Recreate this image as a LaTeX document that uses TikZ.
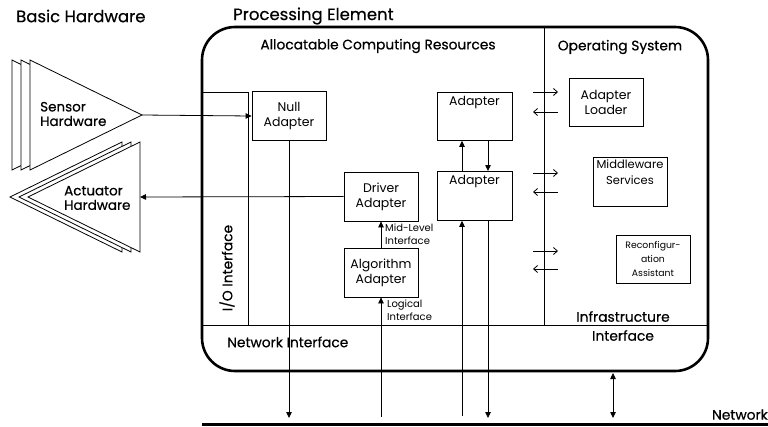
\documentclass[tikz,border=0pt]{standalone}
\usepackage{fontspec}
\setmainfont{Poppins}
\newfontfamily\headfont{Poppins}[FakeBold=0.5]
\usetikzlibrary{arrows.meta}

\begin{document}
\begin{tikzpicture}[x=1pt,y=-1pt,
  box/.style={draw, line width=0.8pt, align=center, inner sep=1pt,
    font=\fontsize{12.5}{15}\selectfont},
  boxtext/.style={align=center, inner sep=0pt, anchor=north},
  head/.style={font=\headfont\fontsize{13.8}{19}\selectfont, inner sep=0pt},
  title/.style={font=\headfont\fontsize{16.5}{19}\selectfont, inner sep=0pt, anchor=west},
  hw/.style={font=\headfont\fontsize{13.5}{14.5}\selectfont, inner sep=0pt, align=left, anchor=west},
  small/.style={font=\fontsize{10}{13}\selectfont, inner sep=0pt, align=left, anchor=west},
  thin/.style={line width=0.8pt},
  conn/.style={line width=0.8pt, -{Triangle[length=6pt,width=5.5pt]}},
  osarrow/.style={line width=0.8pt, -{Straight Barb[length=4pt,width=7pt]}},
  tri/.style={draw, line width=0.8pt, fill=white}
]
\useasboundingbox (0,0) rectangle (768,426);

% ---------- titles ----------
\node[title] (basic) at (16,16) {Basic Hardware};
\node[title] (proc) at (233,16) {Processing Element};

% ---------- processing element frame ----------
\node[draw, line width=2.6pt, rounded corners=33pt, minimum width=506pt,
      minimum height=344pt, inner sep=0pt] (pe) at (455,199) {};

% internal partitions
\coordinate (osTop) at (544,27);
\coordinate (osBot) at (544,325);
\coordinate (niL) at (202,325);
\coordinate (niR) at (708,325);
\draw[thin] (osTop) -- (osBot);
\draw[thin] (niL) -- (niR);
\coordinate (ioTL) at (202,92);
\coordinate (ioTR) at (248,92);
\coordinate (ioBR) at (248,325);
\draw[thin] (ioTL) -- (ioTR) -- (ioBR);

% region headings
\node[head] (acr) at (378,46) {Allocatable Computing Resources};
\node[head] (os) at (620,47) {Operating System};
\node[head, rotate=90] (io) at (227,268) {I/O Interface};
\node[head, anchor=west] (ni) at (227,342) {Network Interface};
\node[head, align=center] (infra) at (623,326) {Infrastructure\\Interface};

% ---------- sensor hardware (stacked triangles) ----------
\filldraw[tri] (12,60) -- (124,115) -- (12,170) -- cycle;
\filldraw[tri] (21,60) -- (133,115) -- (21,170) -- cycle;
\filldraw[tri] (30,60) -- (142,115) -- (30,170) -- cycle;
\coordinate (sensTip) at (142,115);
\node[hw] (sens) at (40,114) {Sensor\\Hardware};

% ---------- actuator hardware (stacked triangles) ----------
\filldraw[tri] (122,142) -- (10,197) -- (122,252) -- cycle;
\filldraw[tri] (131,142) -- (19,197) -- (131,252) -- cycle;
\filldraw[tri] (140,142) -- (28,197) -- (140,252) -- cycle;
\coordinate (actTip) at (140,197);
\node[hw] (act) at (64,198) {Actuator\\Hardware};

% ---------- adapters ----------
\node[box, minimum width=74pt, minimum height=49pt] (null) at (289,116) {Null\\Adapter};
\node[box, minimum width=75pt, minimum height=48pt, anchor=north] (ad1) at (474.5,92) {};
\node[boxtext, font=\fontsize{12.5}{15}\selectfont] (ad1t) at ([yshift=-4pt]ad1.north) {Adapter};
\node[box, minimum width=75pt, minimum height=49pt, anchor=north] (ad2) at (474.5,171) {};
\node[boxtext, font=\fontsize{12.5}{15}\selectfont] (ad2t) at ([yshift=-4pt]ad2.north) {Adapter};
\node[box, minimum width=74pt, minimum height=49pt] (drv) at (381,196.5) {Driver\\Adapter};
\node[box, minimum width=74pt, minimum height=49pt] (alg) at (381,272.5) {Algorithm\\Adapter};

% ---------- OS components ----------
\node[box, minimum width=74pt, minimum height=48pt] (loader) at (606,102) {Adapter\\Loader};
\node[box, minimum width=74pt, minimum height=49pt] (mw) at (630,181.5) {};
\node[boxtext, font=\fontsize{11.5}{16}\selectfont] (mwt) at ([yshift=-3pt]mw.north) {Middleware\\Services};
\node[box, minimum width=74pt, minimum height=48pt, font=\fontsize{9.3}{14}\selectfont] (reconf) at (653,259) {Reconfigur-\\ation\\Assistant};

% ---------- network ----------
\coordinate (netL) at (202,424.5);
\coordinate (netR) at (768,424.5);
\draw[line width=2.6pt] (netL) -- (netR);
\node[head, anchor=south east] (net) at (768,420) {Network};

% ---------- connectors ----------
\coordinate (n1) at (289,418);
\coordinate (n2) at (381,417);
\coordinate (n3) at (462,416);
\coordinate (n4) at (488,418);
\draw[conn] (sensTip) -- (null.west);
\draw[conn] (drv.west) -- (actTip);
\draw[conn] (null.south) -- (n1);
\draw[conn] (alg.north) -- (drv.south);
\draw[conn] (n2) -- (alg.south);
\draw[conn] (n3) -- (n3 |- ad2.south);
\draw[conn] (ad2.south -| n4) -- (n4);
\draw[conn] (ad2.north -| n3) -- (ad1.south -| n3);
\draw[conn] (ad1.south -| n4) -- (ad2.north -| n4);

\node[small] (mid) at (385,234) {Mid-Level\\Interface};
\node[small] (logic) at (387,310) {Logical\\Interface};

% infrastructure link to the network
\coordinate (peB) at (613,373);
\coordinate (netB) at (613,418);
\draw[line width=0.8pt, {Triangle[length=6pt,width=5.5pt]}-{Triangle[length=6pt,width=5.5pt]}] (peB) -- (netB);

% OS interface arrows
\foreach \y/\n in {92/a,173/b,251/c}{
  \coordinate (r\n1) at (533,\y);
  \coordinate (r\n2) at (558,\y);
}
\foreach \y/\n in {112/a,192/b,269/c}{
  \coordinate (l\n1) at (558,\y);
  \coordinate (l\n2) at (533,\y);
}
\draw[osarrow] (ra1) -- (ra2);
\draw[osarrow] (rb1) -- (rb2);
\draw[osarrow] (rc1) -- (rc2);
\draw[osarrow] (la1) -- (la2);
\draw[osarrow] (lb1) -- (lb2);
\draw[osarrow] (lc1) -- (lc2);
\end{tikzpicture}
\end{document}
